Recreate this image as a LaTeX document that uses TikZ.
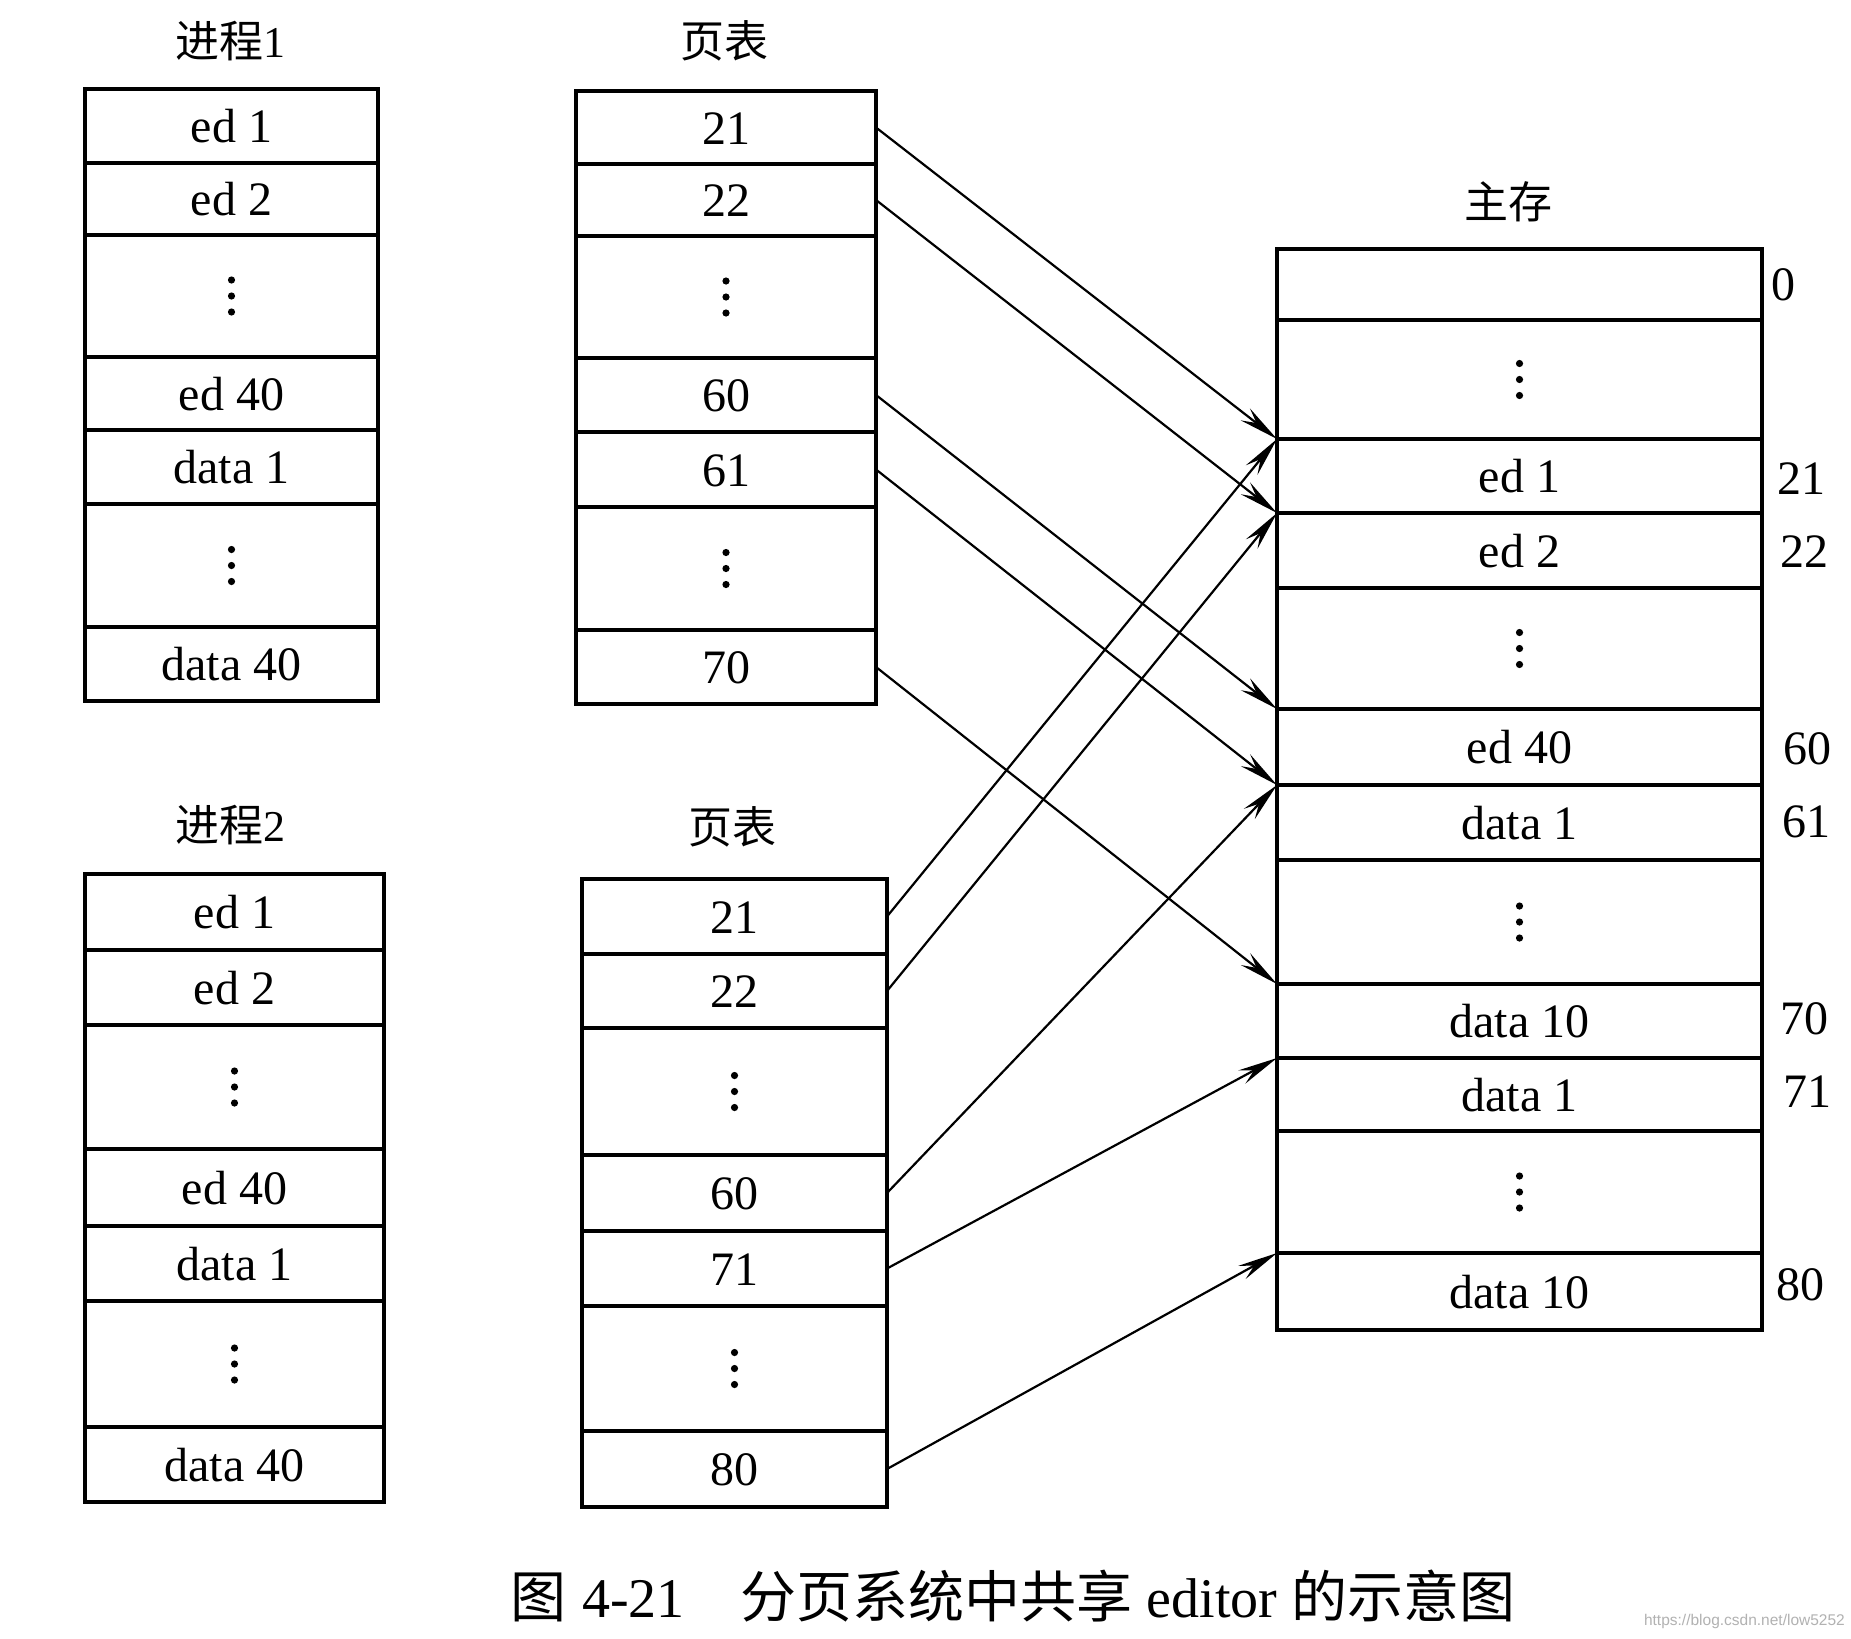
\documentclass[tikz,border=0pt]{standalone}
\usepackage{fontspec}
\setmainfont{Liberation Serif}
\newfontfamily\cjk{Noto Sans CJK SC}
\newfontfamily\wmfont{Liberation Sans}
\usetikzlibrary{arrows.meta}
\newcommand\mkcell[6]{%
  \pgfmathsetmacro\cx{(#2+#3)/2}\pgfmathsetmacro\cy{(#4+#5)/2}%
  \pgfmathsetmacro\cw{#3-#2}\pgfmathsetmacro\ch{#5-#4}%
  \node[cell, minimum width=\cw pt, minimum height=\ch pt] (#1) at (\cx,\cy) {#6};}
\newcommand\dotsin[1]{%
  \foreach \k in {-16,0,16} \fill ([yshift=\k pt]#1.center) circle (3.6pt);}
\tikzset{
  cell/.style={draw, line width=4.4pt, inner sep=0pt, outer sep=0pt,
    font=\fontsize{48}{48}\selectfont, text height=33pt, text depth=0pt},
  title/.style={font=\fontsize{44}{44}\selectfont, inner sep=0pt},
  addr/.style={font=\fontsize{48}{48}\selectfont, anchor=west, inner sep=0pt},
  link/.style={line width=2.2pt, -{Stealth[length=40pt, width=15pt, inset=14pt]}},
}
\begin{document}
\begin{tikzpicture}[x=1pt, y=-1pt]
\fill[white] (0,0) rectangle (1851,1638);
\useasboundingbox (0,0) rectangle (1851,1638);

% titles
\node[title] (tp1) at (230,41) {{\cjk 进程}1};
\node[title] (tt1) at (724,41) {\cjk 页表};
\node[title] (tm)  at (1508,202) {\cjk 主存};
\node[title] (tp2) at (230,825) {{\cjk 进程}2};
\node[title] (tt2) at (732,827) {\cjk 页表};

% process 1
\mkcell{p1a}{85}{378}{89}{163}{ed 1}
\mkcell{p1b}{85}{378}{163}{235}{ed 2}
\mkcell{p1c}{85}{378}{235}{357}{}
\mkcell{p1d}{85}{378}{357}{430}{ed 40}
\mkcell{p1e}{85}{378}{430}{504}{data 1}
\mkcell{p1f}{85}{378}{504}{627}{}
\mkcell{p1g}{85}{378}{627}{701}{data 40}
\dotsin{p1c}\dotsin{p1f}

% page table 1
\mkcell{t1a}{576}{876}{91}{164}{21}
\mkcell{t1b}{576}{876}{164}{236}{22}
\mkcell{t1c}{576}{876}{236}{358}{}
\mkcell{t1d}{576}{876}{358}{432}{60}
\mkcell{t1e}{576}{876}{432}{507}{61}
\mkcell{t1f}{576}{876}{507}{630}{}
\mkcell{t1g}{576}{876}{630}{704}{70}
\dotsin{t1c}\dotsin{t1f}

% process 2
\mkcell{p2a}{85}{384}{874}{950}{ed 1}
\mkcell{p2b}{85}{384}{950}{1025}{ed 2}
\mkcell{p2c}{85}{384}{1025}{1149}{}
\mkcell{p2d}{85}{384}{1149}{1226}{ed 40}
\mkcell{p2e}{85}{384}{1226}{1301}{data 1}
\mkcell{p2f}{85}{384}{1301}{1427}{}
\mkcell{p2g}{85}{384}{1427}{1502}{data 40}
\dotsin{p2c}\dotsin{p2f}

% page table 2
\mkcell{t2a}{582}{887}{879}{954}{21}
\mkcell{t2b}{582}{887}{954}{1028}{22}
\mkcell{t2c}{582}{887}{1028}{1155}{}
\mkcell{t2d}{582}{887}{1155}{1231}{60}
\mkcell{t2e}{582}{887}{1231}{1306}{71}
\mkcell{t2f}{582}{887}{1306}{1431}{}
\mkcell{t2g}{582}{887}{1431}{1507}{80}
\dotsin{t2c}\dotsin{t2f}

% main memory
\mkcell{m1}{1277}{1762}{249}{320}{}
\mkcell{m2}{1277}{1762}{320}{439}{}
\mkcell{m3}{1277}{1762}{439}{513}{ed 1}
\mkcell{m4}{1277}{1762}{513}{588}{ed 2}
\mkcell{m5}{1277}{1762}{588}{709}{}
\mkcell{m6}{1277}{1762}{709}{785}{ed 40}
\mkcell{m7}{1277}{1762}{785}{860}{data 1}
\mkcell{m8}{1277}{1762}{860}{984}{}
\mkcell{m9}{1277}{1762}{984}{1058}{data 10}
\mkcell{m10}{1277}{1762}{1058}{1131}{data 1}
\mkcell{m11}{1277}{1762}{1131}{1253}{}
\mkcell{m12}{1277}{1762}{1253}{1330}{data 10}
\dotsin{m2}\dotsin{m5}\dotsin{m8}\dotsin{m11}

% frame numbers
\node[addr] (a0)  at (1771,285) {0};
\node[addr] (a21) at (1777,479) {21};
\node[addr] (a22) at (1780,552) {22};
\node[addr] (a60) at (1783,749) {60};
\node[addr] (a61) at (1782,822) {61};
\node[addr] (a70) at (1780,1019) {70};
\node[addr] (a71) at (1783,1092) {71};
\node[addr] (a80) at (1776,1285) {80};

% links
\draw[link] (t1a.east) -- (m3.north west);
\draw[link] (t1b.east) -- (m4.north west);
\draw[link] (t1d.east) -- (m6.north west);
\draw[link] (t1e.east) -- (m7.north west);
\draw[link] (t1g.east) -- (m9.north west);
\draw[link] (t2a.east) -- (m3.north west);
\draw[link] (t2b.east) -- (m4.north west);
\draw[link] (t2d.east) -- (m7.north west);
\draw[link] (t2e.east) -- (m10.north west);
\draw[link] (t2g.east) -- (m12.north west);

% caption
\node[anchor=west, inner sep=0pt, font=\fontsize{56}{56}\selectfont] (cap) at (510,1596)
  {{\cjk 图}\hspace{16pt}4-21\hspace{56pt}{\cjk 分页系统中共享}\hspace{14pt}editor\hspace{14pt}{\cjk 的示意图}};

% watermark
\node[anchor=east, inner sep=0pt, text=black!30, font=\wmfont\fontsize{15.5}{16}\selectfont] (wm) at (1845,1621) {https://blog.csdn.net/low5252};
\end{tikzpicture}
\end{document}
